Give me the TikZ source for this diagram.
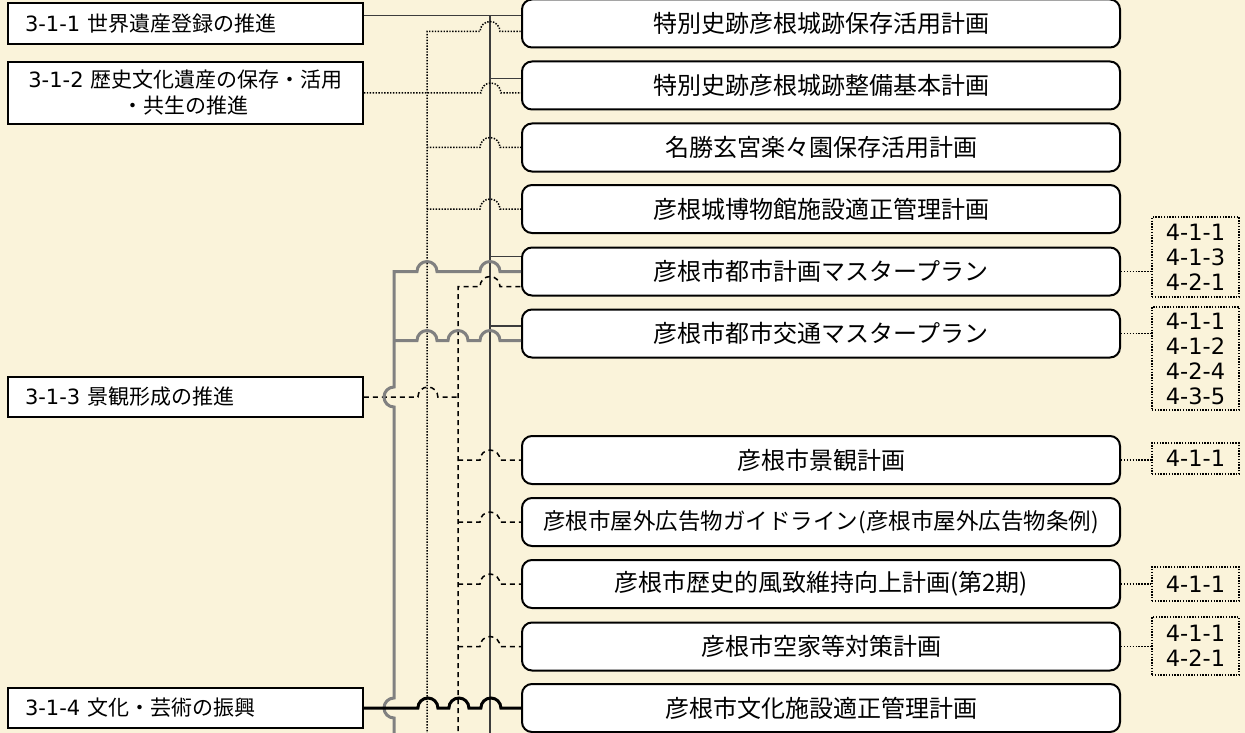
\documentclass[tikz,border=0pt]{standalone}
\usepackage{fontspec}
\setmainfont{DejaVu Sans}
\newfontfamily\jp{Noto Sans CJK JP}
\definecolor{paper}{RGB}{250,243,218}
\definecolor{busgray}{RGB}{128,128,128}
\definecolor{busdark}{RGB}{60,60,60}
\begin{document}
\begin{tikzpicture}[x=1pt,y=-1pt,
    policy/.style={draw,line width=1.8pt,fill=white,inner xsep=17pt,inner ysep=2pt,
      text width=321pt,align=left,font=\fontsize{21}{26}\selectfont},
    plan/.style={draw,line width=2pt,rounded corners=10pt,fill=white,
      minimum width=598pt,minimum height=48pt,font=\jp\fontsize{24}{28}\selectfont},
    refs/.style={draw,line width=1.4pt,dash pattern=on 1.4pt off 1.4pt,
      minimum width=87pt,inner sep=1pt,align=center,font=\fontsize{22.5}{25}\selectfont},
    link1/.style={draw=busdark,line width=1.3pt},
    bus1/.style={draw=busdark,line width=2pt},
    link2/.style={draw=black,line width=1.5pt,dash pattern=on 1.4pt off 1.5pt},
    link3/.style={draw=black,line width=1.5pt,dash pattern=on 5pt off 4pt},
    link4/.style={draw=busgray,line width=3pt},
    link5/.style={draw=black,line width=3pt}]
  \fill[paper] (0,0) rectangle (1245,733);
  \useasboundingbox (0,0) rectangle (1245,733);

  % basic policies
  \path
    (185.5,23.5) node[policy,minimum height=41pt] (L1) {3-1-1 \jp 世界遺産登録の推進}
    (185.5,93) node[policy,minimum height=62pt,align=center] (L2) {3-1-2 {\jp 歴史文化遺産の保存・活用}\\{\jp ・共生の推進}}
    (185.5,397) node[policy,minimum height=40pt] (L3) {3-1-3 \jp 景観形成の推進}
    (185.5,708) node[policy,minimum height=40pt] (L4) {3-1-4 \jp 文化・芸術の振興};

  % related plans
  \path
    (821,23.5) node[plan] (P1) {特別史跡彦根城跡保存活用計画}
    (821,85.5) node[plan] (P2) {特別史跡彦根城跡整備基本計画}
    (821,147.5) node[plan] (P3) {名勝玄宮楽々園保存活用計画}
    (821,209) node[plan] (P4) {彦根城博物館施設適正管理計画}
    (821,271.5) node[plan] (P5) {彦根市都市計画マスタープラン}
    (821,333.5) node[plan] (P6) {彦根市都市交通マスタープラン}
    (821,460) node[plan] (P7) {彦根市景観計画}
    (821,522) node[plan,font=\jp\fontsize{22.5}{27}\selectfont] (P8) {彦根市屋外広告物ガイドライン(彦根市屋外広告物条例)}
    (821,584) node[plan] (P9) {彦根市歴史的風致維持向上計画(第2期)}
    (821,646.5) node[plan] (P10) {彦根市空家等対策計画}
    (821,708) node[plan] (P11) {彦根市文化施設適正管理計画};

  % measure numbers
  \path
    (1195.5,257) node[refs,minimum height=80pt] (N5) {4-1-1\\4-1-3\\4-2-1}
    (1195.5,358.5) node[refs,minimum height=103pt] (N6) {4-1-1\\4-1-2\\4-2-4\\4-3-5}
    (1195.5,458.5) node[refs,minimum height=31pt] (N7) {4-1-1}
    (1195.5,584) node[refs,minimum height=34pt] (N9) {4-1-1}
    (1195.5,646) node[refs,minimum height=58pt] (N10) {4-1-1\\4-2-1};

  % bus lines and branch points
  \coordinate (xa) at (394,0);
  \coordinate (xb) at (427,0);
  \coordinate (xc) at (458,0);
  \coordinate (xd) at (490,0);
  \coordinate (foot) at (0,740);
  \coordinate (P1a) at ([yshift=8pt]P1.west);
  \coordinate (P1b) at ([yshift=-8pt]P1.west);
  \coordinate (P2a) at ([yshift=7pt]P2.west);
  \coordinate (P2b) at ([yshift=-7.5pt]P2.west);
  \coordinate (P5a) at ([yshift=15pt]P5.west);
  \coordinate (P5c) at ([yshift=-15pt]P5.west);
  \coordinate (P6a) at ([yshift=7.5pt]P6.west);
  \coordinate (P6g) at ([yshift=-7pt]P6.west);

  % 3-1-1
  \draw[link1] (L1.east |- P1a) -- (P1a);
  \draw[bus1] (xd |- foot) -- (P1a -| xd);
  \foreach \p in {P2a,P5a,P6a}
    \draw[link1] (\p -| xd) -- (\p);

  % 3-1-2
  \draw[link2] (xb |- foot) -- (P1b -| xb) -- ++(53,0)
    arc[start angle=180,end angle=360,radius=10] -- (P1b);
  \draw[link2] (L2.east) -- ++(117,0)
    arc[start angle=180,end angle=360,radius=10] -- (P2b);
  \foreach \p in {P3,P4}
    \draw[link2] (\p.west -| xb) -- ++(53,0)
      arc[start angle=180,end angle=360,radius=10] -- (\p.west);

  % 3-1-3
  \draw[link3] (L3.east) -- ++(54,0)
    arc[start angle=180,end angle=360,radius=10] -- (L3.east -| xc);
  \draw[link3] (xc |- foot) -- (P5c -| xc) -- ++(22,0)
    arc[start angle=180,end angle=360,radius=10] -- (P5c);
  \foreach \p in {P7,P8,P9,P10}
    \draw[link3] (\p.west -| xc) -- ++(22,0)
      arc[start angle=180,end angle=360,radius=10] -- (\p.west);

  % gray bus
  \draw[link4] (xa |- foot) -- ++(0,-22)
    arc[start angle=90,end angle=270,radius=10] -- ++(0,-291)
    arc[start angle=90,end angle=270,radius=10] -- (P5.west -| xa) -- ++(23,0)
    arc[start angle=180,end angle=360,radius=10] -- ++(43,0)
    arc[start angle=180,end angle=360,radius=10] -- (P5.west);
  \draw[link4] (P6g -| xa) -- ++(23,0)
    arc[start angle=180,end angle=360,radius=10] -- ++(11,0)
    arc[start angle=180,end angle=360,radius=10] -- ++(12,0)
    arc[start angle=180,end angle=360,radius=10] -- (P6g);

  % 3-1-4
  \draw[link5] (L4.east) -- ++(54,0)
    arc[start angle=180,end angle=360,radius=10] -- ++(11,0)
    arc[start angle=180,end angle=360,radius=10] -- ++(12,0)
    arc[start angle=180,end angle=360,radius=10] -- (P11.west);

  % plans to measures
  \foreach \p/\n in {P5/N5,P6/N6,P7/N7,P9/N9,P10/N10}
    \draw[link2,line width=1.3pt] (\p.east) -- (\p.east -| \n.west);
\end{tikzpicture}
\end{document}
